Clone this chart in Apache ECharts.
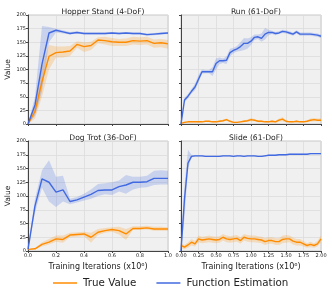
<!DOCTYPE html>
<html><head><meta charset="utf-8">
<script src="https://cdn.jsdelivr.net/npm/echarts@6/dist/echarts.min.js"></script>
<style>html,body{margin:0;padding:0;background:#fff}#c{width:332px;height:295px}</style>
</head><body><div id="c"></div>
<script>
// ---------- data ----------
const titles = ["Hopper Stand (4-DoF)", "Run (61-DoF)", "Dog Trot (36-DoF)", "Slide (61-DoF)"];
const legendNames = ["True Value", "Function Estimation"];
const yTicks = [0, 25, 50, 75, 100, 125, 150, 175, 200];
const xTicksShort = [0.0, 0.2, 0.4, 0.6, 0.8, 1.0];
const xTicksLong = [0.00, 0.25, 0.50, 0.75, 1.00, 1.25, 1.50, 1.75, 2.00];

const xShort = [0,0.05,0.1,0.15,0.2,0.25,0.3,0.35,0.4,0.45,0.5,0.55,0.6,0.65,0.7,0.75,0.8,0.85,0.9,0.95,1.0];
const xLong = [0,0.05,0.1,0.15,0.2,0.25,0.3,0.35,0.4,0.45,0.5,0.55,0.6,0.65,0.7,0.75,0.8,0.85,0.9,0.95,1.0,
  1.05,1.1,1.15,1.2,1.25,1.3,1.35,1.4,1.45,1.5,1.55,1.6,1.65,1.7,1.75,1.8,1.85,1.9,1.95,2.0];

// Hopper Stand
const hopTrue   = [0,23,78,124,131,132,134,146,142,144,154,153,151,150,150,153,152,153,148,149,147];
const hopTrueLo = [0,10,50,100,122,122,125,140,132,136,148,146,143,143,143,146,145,146,140,141,138];
const hopTrueHi = [0,35,105,145,142,142,143,152,150,151,159,160,158,156,157,160,159,160,155,156,154];
const hopEst    = [0,35,110,167,172,169,166,168,166,166,166,166,167,166,167,166,166,164,165,166,167];
const hopEstLo  = [0,15,60,150,168,166,164,166,164,164,164,164,165,164,165,164,164,162,163,164,165];
const hopEstHi  = [0,50,180,178,175,172,169,170,168,168,168,168,169,168,169,168,168,166,167,168,169];

// Run
const runTrue   = [1,3,4,4,4,4,4,5,5,4,4,5,6,8,5,3,3,4,5,6,8,7,5,5,4,4,5,4,7,9,5,4,4,5,4,4,5,7,8,7,7];
const runTrueLo = [0,2,3,3,3,3,3,4,4,3,3,3,4,6,4,2,2,3,3,4,5,5,3,3,3,3,3,2,4,5,3,3,3,3,3,3,3,4,5,5,5];
const runTrueHi = [1,4,5,5,5,5,5,6,6,5,5,7,8,10,7,4,4,5,7,8,11,9,7,7,5,5,7,6,10,13,7,5,5,7,5,5,7,10,11,10,10];
const runEst    = [0,44,51,60,68,82,96,96,96,96,111,116,116,117,131,135,138,142,148,148,152,159,160,157,165,168,168,166,167,170,169,167,165,169,165,165,165,165,164,163,161];
const runEstLo  = [0,40,47,56,62,76,92,93,93,88,100,110,112,110,124,130,133,134,136,138,145,154,156,151,155,163,165,163,165,167,166,164,162,166,162,162,162,162,161,160,158];
const runEstHi  = [0,48,55,64,74,90,100,99,99,104,120,122,120,124,138,140,143,150,158,157,159,164,164,166,176,173,171,169,170,173,172,170,168,172,168,168,168,168,167,166,164];

// Dog Trot
const dogTrue   = [3,4,12,16,22,21,29,30,31,25,34,37,39,37,31,41,41,42,40,40,40];
const dogTrueLo = [3,3,8,12,17,15,25,26,27,15,29,33,35,30,20,38,38,39,37,37,37];
const dogTrueHi = [3,5,16,22,28,28,33,34,35,33,40,42,43,44,40,45,45,46,44,44,43];
const dogEst    = [3,82,131,125,107,111,90,93,98,103,110,111,111,117,120,125,125,126,132,132,132];
const dogEstLo  = [3,70,115,90,80,90,85,88,92,95,100,103,102,108,104,112,115,116,120,121,121];
const dogEstHi  = [3,95,147,165,135,137,95,98,104,112,122,123,125,128,138,135,135,137,146,147,146];

// Slide
const slideTrue   = [10,7,11,16,13,22,20,21,22,21,20,21,25,22,21,22,23,19,25,23,22,22,21,20,17,19,19,17,17,21,22,22,18,16,16,13,10,12,10,13,22];
const slideTrueLo = [5,3,6,10,8,16,14,15,16,15,14,15,19,16,15,16,17,13,19,17,16,16,15,14,11,13,13,11,11,14,15,16,12,10,10,8,6,7,6,8,16];
const slideTrueHi = [14,11,16,22,18,28,26,27,28,27,26,27,31,28,27,28,29,25,31,29,28,28,27,26,23,25,25,23,23,28,29,28,24,22,22,18,14,17,14,18,28];
const slideEst    = [0,95,160,172,173,173,173,172,172,172,172,172,173,173,173,172,173,173,172,173,173,173,172,172,173,174,174,174,175,175,175,176,176,176,176,176,176,177,177,177,177];
const slideEstLo  = [0,60,150,170,172,172,172,171,171,171,171,171,172,172,172,171,172,172,171,172,172,172,171,171,172,173,173,173,174,174,174,175,175,175,175,175,175,176,176,176,176];
const slideEstHi  = [0,120,184,175,174,174,174,173,173,173,173,173,174,174,174,173,174,174,173,174,174,174,173,173,174,175,175,175,176,176,176,177,177,177,177,177,177,178,178,178,178];

// ---------- chart ----------
const ORANGE = '#ff8c00', BLUE = '#4169e1';
const FONT = 'DejaVu Sans';
const panels = [
  {x: xShort, t: hopTrue, tl: hopTrueLo, th: hopTrueHi, e: hopEst, el: hopEstLo, eh: hopEstHi, max: 1, iv: 0.2},
  {x: xLong, t: runTrue, tl: runTrueLo, th: runTrueHi, e: runEst, el: runEstLo, eh: runEstHi, max: 2, iv: 0.25},
  {x: xShort, t: dogTrue, tl: dogTrueLo, th: dogTrueHi, e: dogEst, el: dogEstLo, eh: dogEstHi, max: 1, iv: 0.2},
  {x: xLong, t: slideTrue, tl: slideTrueLo, th: slideTrueHi, e: slideEst, el: slideEstLo, eh: slideEstHi, max: 2, iv: 0.25}
];
const gridPos = [
  {left: 28, top: 15, width: 140, height: 109},
  {left: 181, top: 15, width: 140, height: 109},
  {left: 28, top: 141, width: 140, height: 110},
  {left: 181, top: 141, width: 140, height: 110}
];
const grids = [], xAxes = [], yAxes = [], series = [], titleArr = [];
panels.forEach((p, i) => {
  const g = gridPos[i];
  grids.push(Object.assign({show: true, backgroundColor: '#f0f0f0', borderColor: '#c8c8c8', borderWidth: 1}, g));
  titleArr.push({text: titles[i], left: g.left + g.width / 2, top: g.top - 12, textAlign: 'center',
    textStyle: {fontFamily: FONT, fontSize: 7.6, fontWeight: 'normal', color: '#222'}});
  const bottom = i >= 2;
  const longAx = p.max === 2;
  xAxes.push({type: 'value', gridIndex: i, min: 0, max: p.max, interval: p.iv,
    name: bottom ? 'Training Iterations (x10⁶)' : '', nameLocation: 'middle', nameGap: 12,
    nameTextStyle: {fontFamily: FONT, fontSize: 8, color: '#222'},
    axisLine: {show: true, onZero: false, lineStyle: {color: '#444', width: 1}},
    axisTick: {show: true, length: 2, lineStyle: {color: '#444'}},
    axisLabel: {show: bottom, fontFamily: FONT, fontSize: 5, color: '#222', margin: 2,
      formatter: v => longAx ? v.toFixed(2) : v.toFixed(1)},
    splitLine: {show: true, lineStyle: {color: '#dcdcdc', width: 0.8}}
  });
  const left = i % 2 === 0;
  yAxes.push({type: 'value', gridIndex: i, min: 0, max: 200, interval: 25,
    name: left ? 'Value' : '', nameLocation: 'middle', nameGap: 16, nameRotate: 90,
    nameTextStyle: {fontFamily: FONT, fontSize: 7.5, color: '#222'},
    axisLine: {show: true, lineStyle: {color: '#444', width: 1}},
    axisTick: {show: true, length: 2, lineStyle: {color: '#444'}},
    axisLabel: {show: left, fontFamily: FONT, fontSize: 5, color: '#222', margin: 2},
    splitLine: {show: true, lineStyle: {color: '#dcdcdc', width: 0.8}}
  });
  const band = (lo, hi, color) => {
    series.push({type: 'custom', xAxisIndex: i, yAxisIndex: i, silent: true, z: 1,
      data: p.x.map((x, k) => [x, lo[k], hi[k]]),
      renderItem: (params, api) => {
        if (params.dataIndex !== 0) return null;
        const top = p.x.map((x, k) => api.coord([x, hi[k]]));
        const bot = p.x.map((x, k) => api.coord([x, lo[k]])).reverse();
        return {type: 'polygon', shape: {points: top.concat(bot)},
          style: {fill: color, opacity: 0.22}};
      }
    });
  };
  band(p.tl, p.th, ORANGE);
  band(p.el, p.eh, BLUE);
  series.push({name: legendNames[0], type: 'line', xAxisIndex: i, yAxisIndex: i, symbol: 'none',
    lineStyle: {color: ORANGE, width: 1.4}, itemStyle: {color: ORANGE},
    data: p.x.map((x, k) => [x, p.t[k]]), z: 3});
  series.push({name: legendNames[1], type: 'line', xAxisIndex: i, yAxisIndex: i, symbol: 'none',
    lineStyle: {color: BLUE, width: 1.4}, itemStyle: {color: BLUE},
    data: p.x.map((x, k) => [x, p.e[k]]), z: 3});
});

const chart = echarts.init(document.getElementById('c'), null, {renderer: 'canvas'});
chart.setOption({
  animation: false,
  title: titleArr,
  grid: grids, xAxis: xAxes, yAxis: yAxes, series: series,
  legend: {data: legendNames, left: 48, top: 273, itemWidth: 24, itemHeight: 2, itemGap: 20, icon: 'rect',
    itemStyle: {opacity: 0.75},
    textStyle: {fontFamily: FONT, fontSize: 10.3, color: '#222', padding: [0, 0, 0, 1]}}
});
</script></body></html>
